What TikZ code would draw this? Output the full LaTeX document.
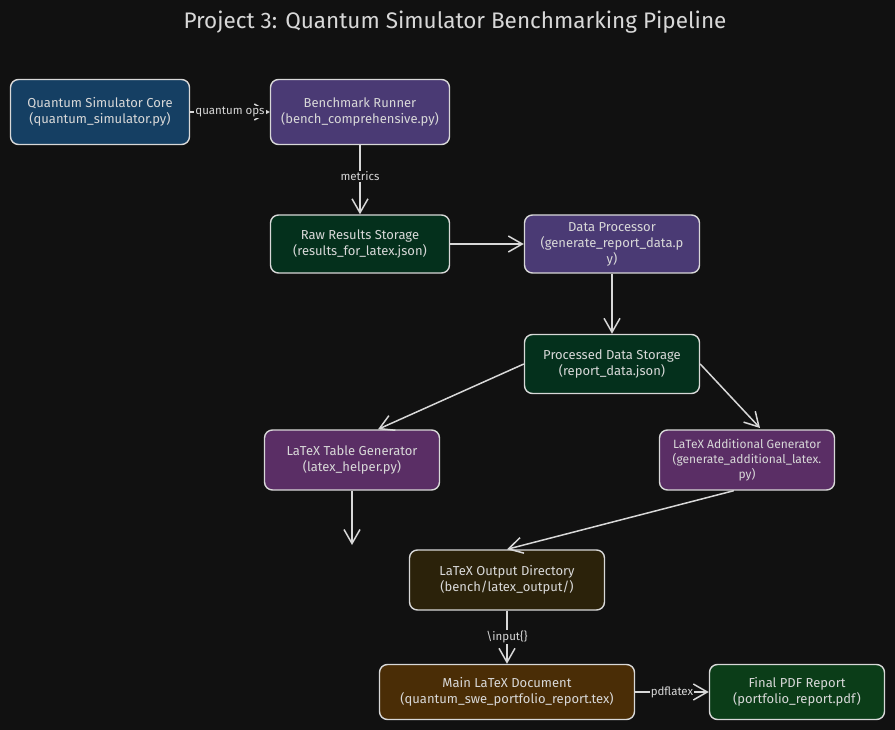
\documentclass[tikz,border=0pt]{standalone}
\usepackage{fontspec}
\setmainfont{Fira Sans}
\usetikzlibrary{arrows.meta}
\definecolor{bg}{HTML}{111111}
\definecolor{ln}{HTML}{D8D8D8}
\definecolor{cblue}{HTML}{153F63}
\definecolor{cpurple}{HTML}{4A3A74}
\definecolor{cgreen}{HTML}{04301C}
\definecolor{cmag}{HTML}{5A2E65}
\definecolor{colive}{HTML}{2B220A}
\definecolor{cbrown}{HTML}{4A2D06}
\definecolor{cpdf}{HTML}{0B3D18}
\tikzset{
  box/.style={draw=ln, line width=1.4pt, rounded corners=8pt, text=ln, align=center,
    font=\fontsize{13}{16}\selectfont, inner sep=0pt},
  conn/.style={draw=ln, line width=1.5pt, -{Straight Barb[length=14pt,width=16pt,line width=1.5pt]}},
  elabel/.style={fill=bg, text=ln, font=\fontsize{11.5}{13}\selectfont, inner sep=1pt},
}
\begin{document}
\begin{tikzpicture}[x=1pt,y=-1pt]
\fill[bg] (0,0) rectangle (895,730);
\useasboundingbox (0,0) rectangle (895,730);
\node[text=ln, font=\fontsize{22.5}{26}\selectfont] (title) at (455,22) {Project 3: Quantum Simulator Benchmarking Pipeline};

\node[box, fill=cblue, minimum width=179pt, minimum height=65pt] (core) at (100,112) {Quantum Simulator Core\\(quantum\_simulator.py)};
\node[box, fill=cpurple, minimum width=179pt, minimum height=65pt] (runner) at (360,112) {Benchmark Runner\\(bench\_comprehensive.py)};
\node[box, fill=cgreen, minimum width=179pt, minimum height=58pt] (raw) at (360,244) {Raw Results Storage\\(results\_for\_latex.json)};
\node[box, fill=cpurple, minimum width=175pt, minimum height=58pt] (proc) at (612,244) {Data Processor\\(generate\_report\_data.p\\y)};
\node[box, fill=cgreen, minimum width=175pt, minimum height=59pt] (pds) at (612,364) {Processed Data Storage\\(report\_data.json)};
\node[box, fill=cmag, minimum width=175pt, minimum height=60pt] (tgen) at (352,460) {LaTeX Table Generator\\(latex\_helper.py)};
\node[box, fill=cmag, minimum width=175pt, minimum height=60pt, font=\fontsize{12}{15}\selectfont] (agen) at (747,460) {LaTeX Additional Generator\\(generate\_additional\_latex.\\py)};
\node[box, fill=colive, minimum width=195pt, minimum height=60pt] (outdir) at (507,580) {LaTeX Output Directory\\(bench/latex\_output/)};
\node[box, fill=cbrown, minimum width=255pt, minimum height=55pt] (main) at (507,692) {Main LaTeX Document\\(quantum\_swe\_portfolio\_report.tex)};
\node[box, fill=cpdf, minimum width=175pt, minimum height=55pt] (pdf) at (797,692) {Final PDF Report\\(portfolio\_report.pdf)};

\coordinate (tend) at (352,545);

\draw[conn] (core) -- node[elabel] {quantum ops} (runner);
\draw[conn] (runner) -- node[elabel, pos=0.45] {metrics} (raw);
\draw[conn] (raw) -- (proc);
\draw[conn] (proc) -- (pds);
\draw[conn] (pds.west) -- (tgen.north -| 378,0);
\draw[conn] (pds.east) -- (760,428);
\draw[conn] (tgen) -- (tend);
\draw[conn] (agen.south west) ++(75,0) -- (outdir.north);
\draw[conn] (outdir) -- node[elabel] {\textbackslash input\{\}} (main);
\draw[conn] (main) -- node[elabel] {pdflatex} (pdf);
\end{tikzpicture}
\end{document}
